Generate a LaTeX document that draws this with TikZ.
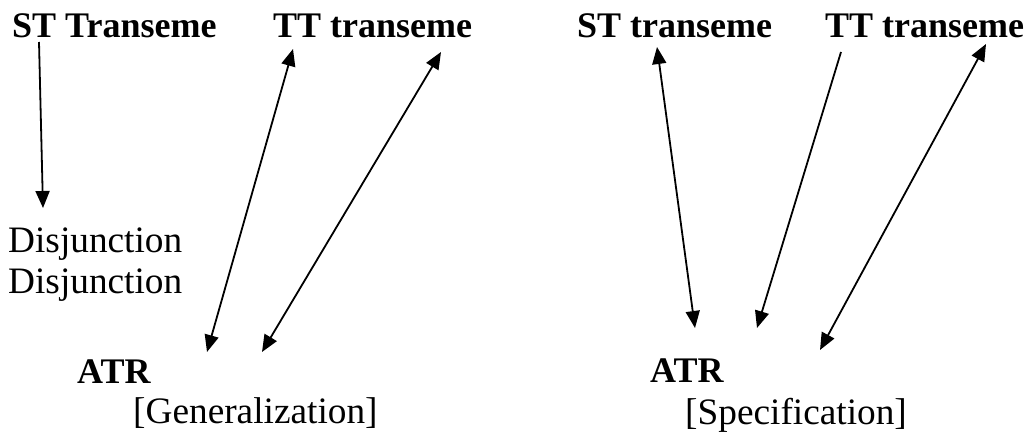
\documentclass[tikz,border=0pt]{standalone}
\usepackage{fontspec}
\setmainfont{Liberation Serif}
\usetikzlibrary{arrows.meta}
\begin{document}
\begin{tikzpicture}[x=1pt,y=-1pt,
  lbl/.style={anchor=base west,inner sep=0pt,font=\fontsize{37.3}{41}\selectfont},
  head/.style={lbl,font=\fontsize{36}{40}\selectfont\bfseries},
  tip/.tip={Triangle[length=17pt,width=14pt]},
  link/.style={line width=1.8pt,-tip},
  both/.style={line width=1.8pt,tip-tip}]
\useasboundingbox (0,0) rectangle (1030,434);

% left panel: generalization
\node[head] (stL) at (12,37) {ST Transeme};
\node[head] (ttL) at (273,37) {TT transeme};
\node[lbl] (dis1) at (8,252) {Disjunction};
\node[lbl] (dis2) at (8,293) {Disjunction};
\node[head] (atrL) at (77,383) {ATR};
\node[lbl] (gen) at (133,423) {[Generalization]};

% right panel: specification
\node[head] (stR) at (577,37) {ST transeme};
\node[head] (ttR) at (825,37) {TT transeme};
\node[head] (atrR) at (650,382) {ATR};
\node[lbl] (spec) at (685,424) {[Specification]};

% arrow end points
\coordinate (a1s) at (39,42);
\coordinate (a1e) at (43,208);
\coordinate (a2s) at (207,352);
\coordinate (a2e) at (293,49);
\coordinate (a3s) at (262,352);
\coordinate (a3e) at (441,52);
\coordinate (b1s) at (657,47);
\coordinate (b1e) at (695,328);
\coordinate (b2s) at (841,52);
\coordinate (b2e) at (757,328);
\coordinate (b3s) at (986,44);
\coordinate (b3e) at (820,350);

\draw[link] (a1s) -- (a1e);
\draw[both] (a2s) -- (a2e);
\draw[both] (a3s) -- (a3e);
\draw[both] (b1s) -- (b1e);
\draw[link] (b2s) -- (b2e);
\draw[both] (b3s) -- (b3e);
\end{tikzpicture}
\end{document}
